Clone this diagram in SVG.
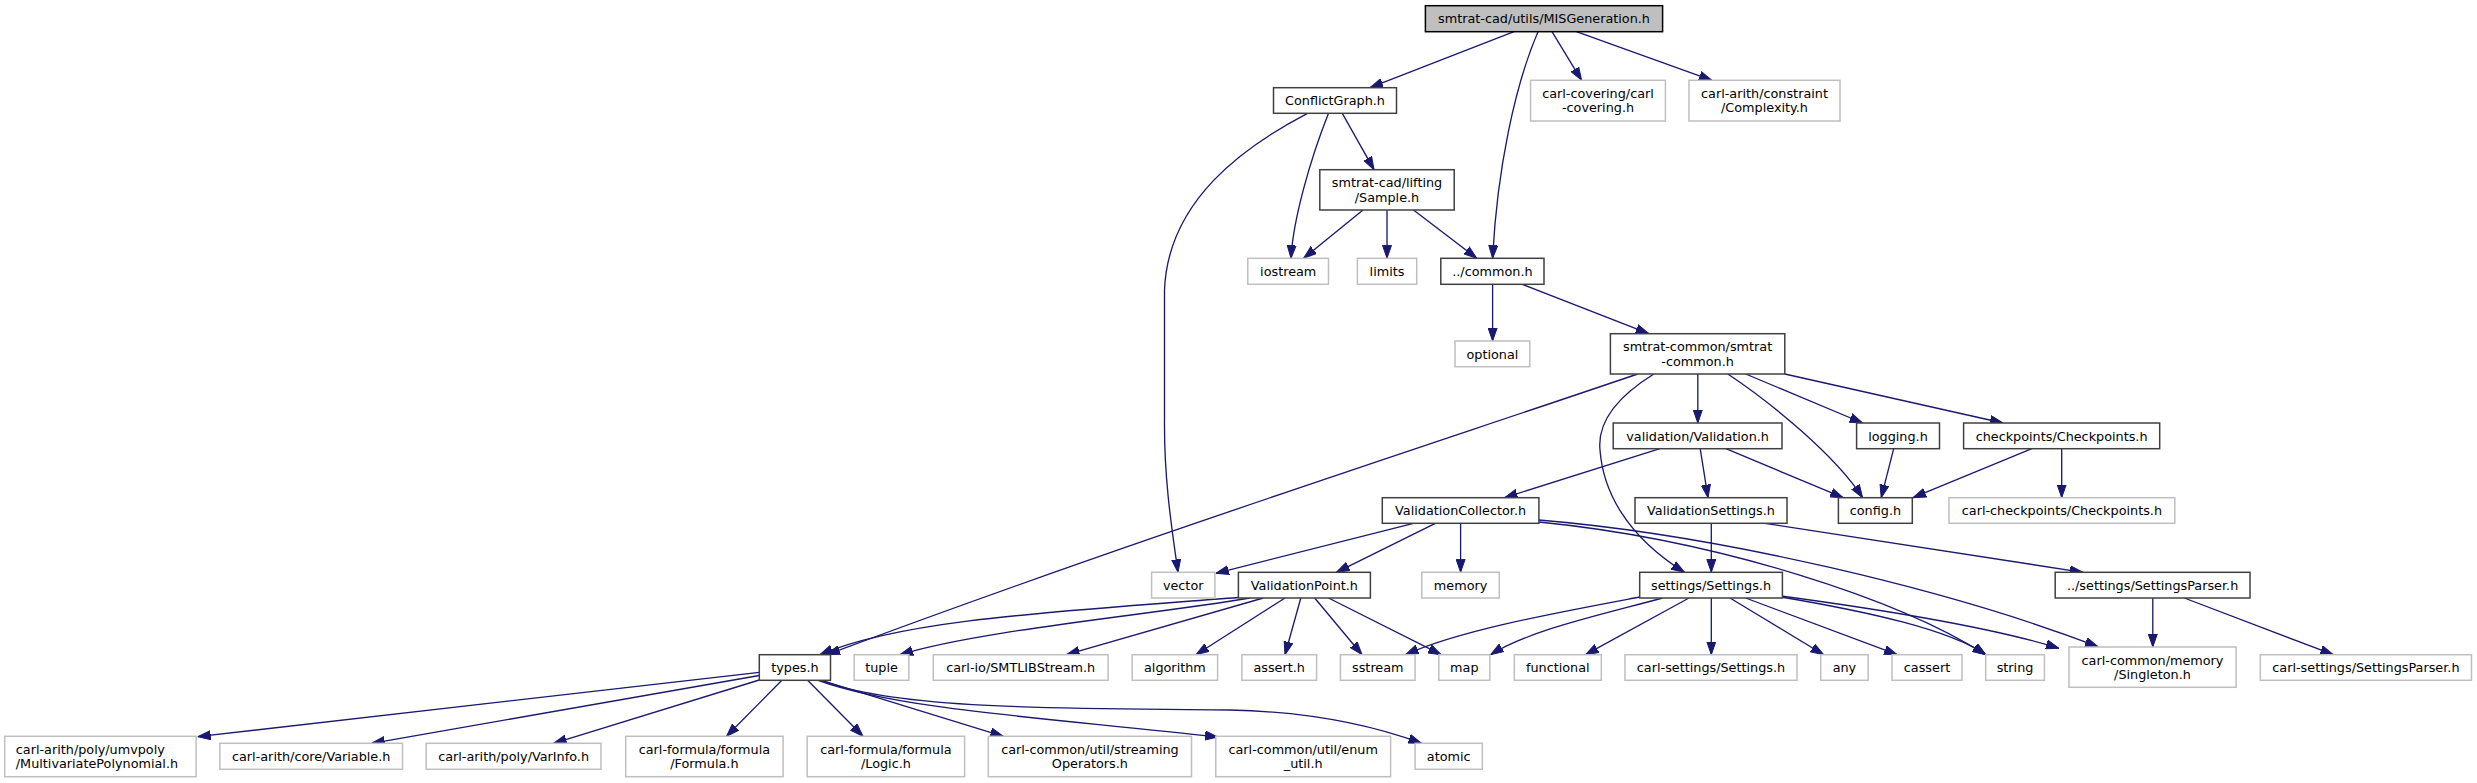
<svg xmlns="http://www.w3.org/2000/svg" width="2477" height="783" viewBox="0 0 2477 783">
<style>
text{font-family:"DejaVu Sans","Liberation Sans",sans-serif;font-size:12.8px;text-anchor:middle;fill:#000}
.n rect{fill:#fff;stroke:#404040;stroke-width:1.5}
.x rect{fill:#fff;stroke:#bfbfbf;stroke-width:1.5}
.t rect{fill:#bfbfbf;stroke:#000;stroke-width:1.5}
#edges path{fill:none;stroke:#191970;stroke-width:1.33;marker-end:url(#a)}
</style>
<defs>
<marker id="a" markerUnits="userSpaceOnUse" markerWidth="13" markerHeight="10" viewBox="0 0 13 10" refX="13" refY="5" orient="auto"><path d="M0,0.5 L13,5 L0,9.5 z" fill="#191970" stroke="#191970" stroke-width="1"/></marker>
</defs>
<rect width="2477" height="783" fill="#fff"/>
<g id="edges">
<path d="M1514,31.7 L1370,87.7"/>
<path d="M1538,31.7 C1515,85 1497,170 1492.6,258.3"/>
<path d="M1552,31.7 L1581.6,80.3"/>
<path d="M1576.4,31.7 L1712,80.3"/>
<path d="M1307.5,113.3 C1245,146 1168,200 1164.5,290 L1164.5,420 C1164,480 1172,530 1178,572.3"/>
<path d="M1328.5,113.3 C1310,160 1293,220 1291,258.3"/>
<path d="M1342.3,113.3 L1374,169.7"/>
<path d="M1363,210 L1303.6,258.3"/>
<path d="M1387,210 L1387,258.3"/>
<path d="M1413.5,210 L1476.8,258.3"/>
<path d="M1492.6,284.3 L1492.6,341"/>
<path d="M1522.3,284.3 L1648.8,333.7"/>
<path d="M1637.7,374 C1420,448 1120,545 827,654.7"/>
<path d="M1653.9,374 C1620,395 1597,420 1600,450 C1603,490 1625,535 1684.4,572.3"/>
<path d="M1697.8,374 L1697.8,423"/>
<path d="M1745.7,374 L1862.6,423"/>
<path d="M1784.8,374 L2003,423"/>
<path d="M1727.8,374 C1770,402 1835,455 1862.6,497.7"/>
<path d="M1725.9,448.7 L1843.2,497.7"/>
<path d="M1893.7,448.7 L1881.2,497.7"/>
<path d="M2031.9,448.7 L1913,497.7"/>
<path d="M2061.7,448.7 L2061.7,497.7"/>
<path d="M1659.9,448.7 L1504.5,497.7"/>
<path d="M1700.2,448.7 L1708,497.7"/>
<path d="M1711.3,523.3 L1711.3,572.3"/>
<path d="M1765,523.3 L2082.8,572.3"/>
<path d="M1413.5,523.3 L1215.8,573.3"/>
<path d="M1435.3,523.3 L1336.4,572.3"/>
<path d="M1460.6,523.3 L1460.6,572.3"/>
<path d="M1538.9,520 C1720,535 1950,590 2098,646.7"/>
<path d="M1538.9,522 C1720,540 1900,600 1985.7,654.7"/>
<path d="M1238.4,597.5 C1050,612 900,620 820,654.7"/>
<path d="M1250,598 C1150,615 980,630 900,654.7"/>
<path d="M1263.3,598 L1066.6,654.7"/>
<path d="M1285,598 L1196,654.7"/>
<path d="M1300.8,598 L1285,654.7"/>
<path d="M1314.7,598 L1362,654.7"/>
<path d="M1328.5,598 L1441.2,654.7"/>
<path d="M1639.7,597 C1560,612 1460,630 1405.6,654.7"/>
<path d="M1662.6,598 C1600,615 1530,630 1490.6,654.7"/>
<path d="M1689,598 L1585.5,654.7"/>
<path d="M1711.3,598 L1711.3,654.7"/>
<path d="M1730,598 L1823.7,654.7"/>
<path d="M1745.6,598 L1897.2,654.7"/>
<path d="M1781,597 C1870,612 1950,630 1985.7,654.7"/>
<path d="M1781,596 C1900,612 2000,630 2059,648.3"/>
<path d="M2152.8,598 L2152.8,647"/>
<path d="M2184.3,598 L2333.3,654.7"/>
<path d="M759.3,672.3 L197.7,736.7"/>
<path d="M759.3,675.5 L371.7,743.3"/>
<path d="M759.3,680 L553.6,743.3"/>
<path d="M781.9,680.3 L726.5,736.3"/>
<path d="M807.6,680.3 L863,736.3"/>
<path d="M821.4,680.3 L1003.3,736.3"/>
<path d="M818,680.3 C900,710 1050,718 1218,737"/>
<path d="M822,680.3 C900,712 1100,708 1230,710 C1320,712 1380,728 1421.4,743.3"/>
</g>
<g id="n_title" class="t"><rect x="1425.4" y="5.7" width="237.2" height="26"/><text x="1544" y="23.3">smtrat-cad/utils/MISGeneration.h</text></g>
<g id="n_conflictgraph" class="n"><rect x="1273.5" y="87.7" width="123" height="25.6"/><text x="1335" y="105.1">ConflictGraph.h</text></g>
<g id="n_carlcovering" class="x"><rect x="1530.6" y="80.3" width="134.8" height="40.7"/><text x="1598" y="98">carl-covering/carl</text><text x="1598" y="112.4">-covering.h</text></g>
<g id="n_complexity" class="x"><rect x="1689" y="80.3" width="151" height="40.7"/><text x="1764.5" y="98">carl-arith/constraint</text><text x="1764.5" y="112.4">/Complexity.h</text></g>
<g id="n_sample" class="n"><rect x="1319.8" y="169.7" width="134.4" height="40.3"/><text x="1387" y="187.2">smtrat-cad/lifting</text><text x="1387" y="201.6">/Sample.h</text></g>
<g id="n_iostream" class="x"><rect x="1247.8" y="258.3" width="80.7" height="26"/><text x="1288.2" y="275.9">iostream</text></g>
<g id="n_limits" class="x"><rect x="1357.4" y="258.3" width="59.3" height="26"/><text x="1387" y="275.9">limits</text></g>
<g id="n_common" class="n"><rect x="1440.8" y="258.3" width="103.2" height="26"/><text x="1492.4" y="275.9">../common.h</text></g>
<g id="n_optional" class="x"><rect x="1455" y="341" width="74.8" height="25.7"/><text x="1492.4" y="358.5">optional</text></g>
<g id="n_smtratcommon" class="n"><rect x="1610.4" y="333.7" width="174.4" height="40.3"/><text x="1697.6" y="351.2">smtrat-common/smtrat</text><text x="1697.6" y="365.6">-common.h</text></g>
<g id="n_validation" class="n"><rect x="1613.2" y="423" width="168.8" height="25.7"/><text x="1697.6" y="440.5">validation/Validation.h</text></g>
<g id="n_logging" class="n"><rect x="1856.6" y="423" width="82.9" height="25.7"/><text x="1898" y="440.5">logging.h</text></g>
<g id="n_checkpoints" class="n"><rect x="1963.6" y="423" width="196.1" height="25.7"/><text x="2061.6" y="440.5">checkpoints/Checkpoints.h</text></g>
<g id="n_validationcollector" class="n"><rect x="1382.3" y="497.7" width="156.6" height="25.6"/><text x="1460.6" y="515.1">ValidationCollector.h</text></g>
<g id="n_validationsettings" class="n"><rect x="1635" y="497.7" width="152" height="25.6"/><text x="1711" y="515.1">ValidationSettings.h</text></g>
<g id="n_config" class="n"><rect x="1838.4" y="497.7" width="73.9" height="25.6"/><text x="1875.4" y="515.1">config.h</text></g>
<g id="n_carlcheckpoints" class="x"><rect x="1949" y="497.7" width="225.8" height="25.6"/><text x="2061.9" y="515.1">carl-checkpoints/Checkpoints.h</text></g>
<g id="n_vector" class="x"><rect x="1151.6" y="572.3" width="63.3" height="25.7"/><text x="1183.2" y="589.8">vector</text></g>
<g id="n_validationpoint" class="n"><rect x="1238.4" y="572.3" width="132" height="25.7"/><text x="1304.4" y="589.8">ValidationPoint.h</text></g>
<g id="n_memory" class="x"><rect x="1421.8" y="572.3" width="77.5" height="25.7"/><text x="1460.6" y="589.8">memory</text></g>
<g id="n_settings" class="n"><rect x="1639.7" y="572.3" width="142.7" height="25.7"/><text x="1711" y="589.8">settings/Settings.h</text></g>
<g id="n_settingsparser" class="n"><rect x="2055.2" y="572.3" width="194.8" height="25.7"/><text x="2152.6" y="589.8">../settings/SettingsParser.h</text></g>
<g id="n_types" class="n"><rect x="759.3" y="654.7" width="71.2" height="25.6"/><text x="794.9" y="672.1">types.h</text></g>
<g id="n_tuple" class="x"><rect x="854.2" y="654.7" width="54.6" height="25.6"/><text x="881.5" y="672.1">tuple</text></g>
<g id="n_smtlibstream" class="x"><rect x="933.3" y="654.7" width="174.8" height="25.6"/><text x="1020.7" y="672.1">carl-io/SMTLIBStream.h</text></g>
<g id="n_algorithm" class="x"><rect x="1132.2" y="654.7" width="85.4" height="25.6"/><text x="1174.9" y="672.1">algorithm</text></g>
<g id="n_assert" class="x"><rect x="1241.9" y="654.7" width="74.7" height="25.6"/><text x="1279.2" y="672.1">assert.h</text></g>
<g id="n_sstream" class="x"><rect x="1340.4" y="654.7" width="74.7" height="25.6"/><text x="1377.8" y="672.1">sstream</text></g>
<g id="n_map" class="x"><rect x="1438.8" y="654.7" width="51" height="25.6"/><text x="1464.3" y="672.1">map</text></g>
<g id="n_functional" class="x"><rect x="1514.3" y="654.7" width="87" height="25.6"/><text x="1557.8" y="672.1">functional</text></g>
<g id="n_carlsettings" class="x"><rect x="1625" y="654.7" width="172" height="25.6"/><text x="1711" y="672.1">carl-settings/Settings.h</text></g>
<g id="n_any" class="x"><rect x="1820.7" y="654.7" width="47.5" height="25.6"/><text x="1844.4" y="672.1">any</text></g>
<g id="n_cassert" class="x"><rect x="1892" y="654.7" width="70" height="25.6"/><text x="1927" y="672.1">cassert</text></g>
<g id="n_string" class="x"><rect x="1985.7" y="654.7" width="58.7" height="25.6"/><text x="2015" y="672.1">string</text></g>
<g id="n_singleton" class="x"><rect x="2069" y="647" width="167.1" height="40.3"/><text x="2152.5" y="664.5">carl-common/memory</text><text x="2152.5" y="678.9">/Singleton.h</text></g>
<g id="n_carlsettingsparser" class="x"><rect x="2260.3" y="654.7" width="211.2" height="25.6"/><text x="2365.9" y="672.1">carl-settings/SettingsParser.h</text></g>
<g id="n_multivariate" class="x"><rect x="4.7" y="736.3" width="191.4" height="40.4"/><text x="15.8" y="753.9" style="text-anchor:start">carl-arith/poly/umvpoly</text><text x="15.8" y="768.3" style="text-anchor:start">/MultivariatePolynomial.h</text></g>
<g id="n_variable" class="x"><rect x="219.8" y="743.3" width="182.7" height="26"/><text x="311.2" y="760.9">carl-arith/core/Variable.h</text></g>
<g id="n_varinfo" class="x"><rect x="426.2" y="743.3" width="174.8" height="26"/><text x="513.6" y="760.9">carl-arith/poly/VarInfo.h</text></g>
<g id="n_formula" class="x"><rect x="625.7" y="736.3" width="157.4" height="40.4"/><text x="704.4" y="753.9">carl-formula/formula</text><text x="704.4" y="768.3">/Formula.h</text></g>
<g id="n_logic" class="x"><rect x="807.2" y="736.3" width="157.4" height="40.4"/><text x="885.9" y="753.9">carl-formula/formula</text><text x="885.9" y="768.3">/Logic.h</text></g>
<g id="n_streaming" class="x"><rect x="988.3" y="736.3" width="203.2" height="40.4"/><text x="1089.9" y="753.9">carl-common/util/streaming</text><text x="1089.9" y="768.3">Operators.h</text></g>
<g id="n_enumutil" class="x"><rect x="1215.8" y="736.3" width="174.8" height="40.4"/><text x="1303.2" y="753.9">carl-common/util/enum</text><text x="1303.2" y="768.3">_util.h</text></g>
<g id="n_atomic" class="x"><rect x="1415.1" y="743.3" width="67.2" height="26"/><text x="1448.7" y="760.9">atomic</text></g>
</svg>
